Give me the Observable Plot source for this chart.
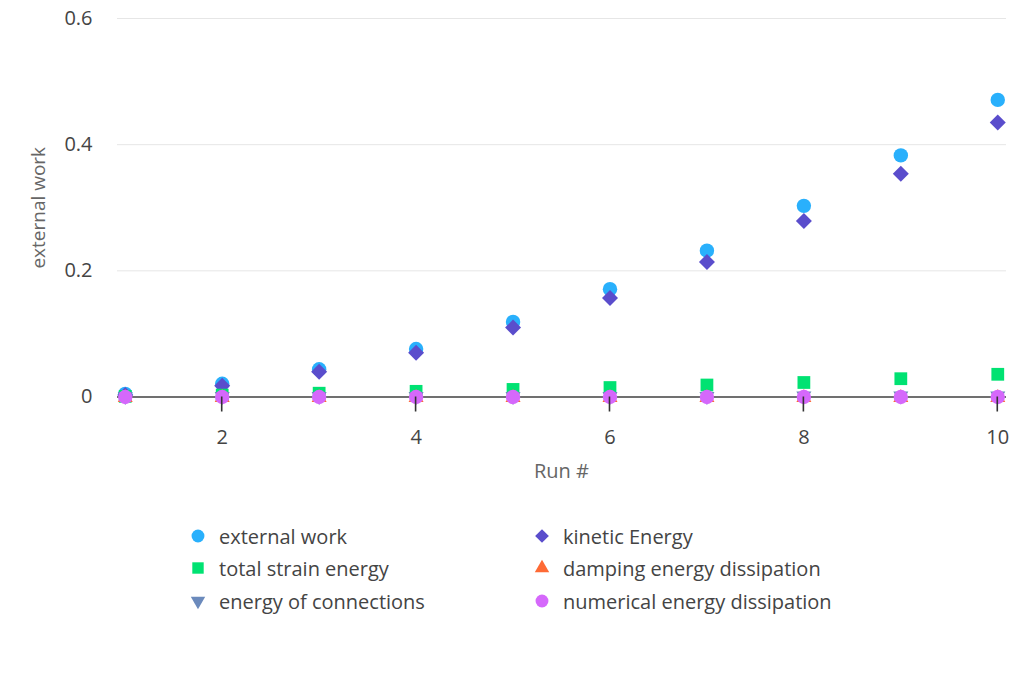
<!DOCTYPE html>
<html>
<head>
<meta charset="utf-8">
<script src="https://cdn.jsdelivr.net/npm/d3@7"></script>
<script src="https://cdn.jsdelivr.net/npm/@observablehq/plot@0.6"></script>
<style>
  body { margin: 0; background: #fff; font-family: "Open Sans", "Noto Sans", sans-serif; }
  #legend { position: relative; width: 1024px; height: 183px; }
  .item { position: absolute; display: flex; align-items: center; font-size: 20px; color: #444; white-space: nowrap; }
  .item svg { margin-right: 11px; }
</style>
</head>
<body>
<div id="chart"></div>
<div id="legend"></div>
<script>
const runs = [1, 2, 3, 4, 5, 6, 7, 8, 9, 10];
const seriesNames = [
  "external work",
  "kinetic Energy",
  "total strain energy",
  "damping energy dissipation",
  "energy of connections",
  "numerical energy dissipation"
];
const colors = ["#29b0fc", "#5a4dcc", "#00e272", "#fe6a35", "#6b8abc", "#d568fb"];
const externalWork = [0.005, 0.021, 0.044, 0.076, 0.119, 0.171, 0.232, 0.303, 0.383, 0.471];
const kineticEnergy = [0.003, 0.018, 0.040, 0.070, 0.110, 0.157, 0.214, 0.279, 0.354, 0.435];
const totalStrain = [0.001, 0.003, 0.006, 0.009, 0.012, 0.015, 0.019, 0.023, 0.029, 0.036];
const damping = [-0.001, -0.001, -0.001, -0.001, -0.001, -0.001, -0.001, -0.001, -0.001, -0.001];
const connections = [0.001, 0.001, 0.001, 0.001, 0.001, 0.001, 0.001, 0.002, 0.002, 0.002];
const numerical = [0, 0, 0, 0, 0, 0, 0, 0, 0, 0];
const yTicks = [0, 0.2, 0.4, 0.6];
const xTicks = [2, 4, 6, 8, 10];

const seriesValues = [externalWork, kineticEnergy, totalStrain, damping, connections, numerical];

function scaled(symbol, k) {
  return {draw(context, size) { symbol.draw(context, size * k); }};
}
const triangleDownBase = {
  draw(context, size) {
    const y = -Math.sqrt(size / (Math.sqrt(3) * 3));
    context.moveTo(0, -y * 2);
    context.lineTo(-Math.sqrt(3) * y, y);
    context.lineTo(Math.sqrt(3) * y, y);
    context.closePath();
  }
};
const triangleUp = scaled(d3.symbolTriangle, 0.6);
const triangleDown = scaled(triangleDownBase, 0.6);
const symbols = [d3.symbolCircle, d3.symbolDiamond2, d3.symbolSquare, triangleUp, triangleDown, d3.symbolCircle];

const data = [];
seriesNames.forEach((name, i) => {
  runs.forEach((r, j) => data.push({series: name, run: r, value: seriesValues[i][j]}));
});

const chart = Plot.plot({
  width: 1024,
  height: 500,
  marginTop: 18,
  marginBottom: 103.5,
  marginLeft: 117,
  marginRight: 18,
  style: {fontFamily: "'Open Sans', 'Noto Sans', sans-serif", fontSize: "19px", color: "#444", background: "#fff"},
  x: {domain: [0.92, 10.09], label: null},
  y: {domain: [0, 0.6], label: null},
  color: {domain: seriesNames, range: colors},
  symbol: {domain: seriesNames, range: symbols},
  marks: [
    Plot.gridY(yTicks, {stroke: "#e6e6e6", strokeOpacity: 1, strokeWidth: 1}),
    Plot.axisY(yTicks, {tickSize: 0, tickPadding: 25, tickFormat: d => d === 0 ? "0" : d3.format(".1f")(d), fontSize: 20, fill: "#444", label: null}),
    Plot.ruleY([0], {stroke: "#444", strokeWidth: 1.5}),
    Plot.axisX(xTicks, {tickSize: 0, tickPadding: 33, fontSize: 20, fill: "#444", label: null}),
    Plot.dot(data, {x: "run", y: "value", fill: "series", symbol: "series", r: 7.2, stroke: "none"}),
    Plot.text(["external work"], {frameAnchor: "left", dx: -79, rotate: -90, fontSize: 19, fill: "#666", textAnchor: "middle"}),
    Plot.text(["Run #"], {x: 5.5, frameAnchor: "bottom", dy: 81, fontSize: 20, fill: "#666"})
  ]
});

// x-axis tick marks, positioned through Plot's own scales
const xs = chart.scale("x");
const ys = chart.scale("y");
const y0 = ys.apply(0);
const tg = d3.select(chart).append("g").attr("class", "x-tick-marks");
xTicks.forEach(t => {
  const px = xs.apply(t);
  tg.append("line")
    .attr("x1", px).attr("x2", px)
    .attr("y1", y0).attr("y2", y0 + 15)
    .attr("stroke", "#333").attr("stroke-width", 1.6);
});
document.getElementById("chart").appendChild(chart);

const legend = document.getElementById("legend");
const positions = [
  [188, 36], [532, 36],
  [188, 68], [532, 68],
  [188, 101], [532, 101]
];
const legendSymbols = [d3.symbolCircle, d3.symbolDiamond2, d3.symbolSquare, d3.symbolTriangle, triangleDownBase, d3.symbolCircle];
const legendSizes = [130, 120, 130, 90, 90, 130];
seriesNames.forEach((name, i) => {
  const item = document.createElement("div");
  item.className = "item";
  item.style.left = positions[i][0] + "px";
  item.style.top = (positions[i][1] - 14) + "px";
  const s = d3.create("svg").attr("width", 20).attr("height", 28);
  s.append("path").attr("transform", "translate(10,14)")
    .attr("d", d3.symbol(legendSymbols[i], legendSizes[i])())
    .attr("fill", colors[i]);
  item.appendChild(s.node());
  const t = document.createElement("span");
  t.textContent = name;
  item.appendChild(t);
  legend.appendChild(item);
});
</script>
</body>
</html>
